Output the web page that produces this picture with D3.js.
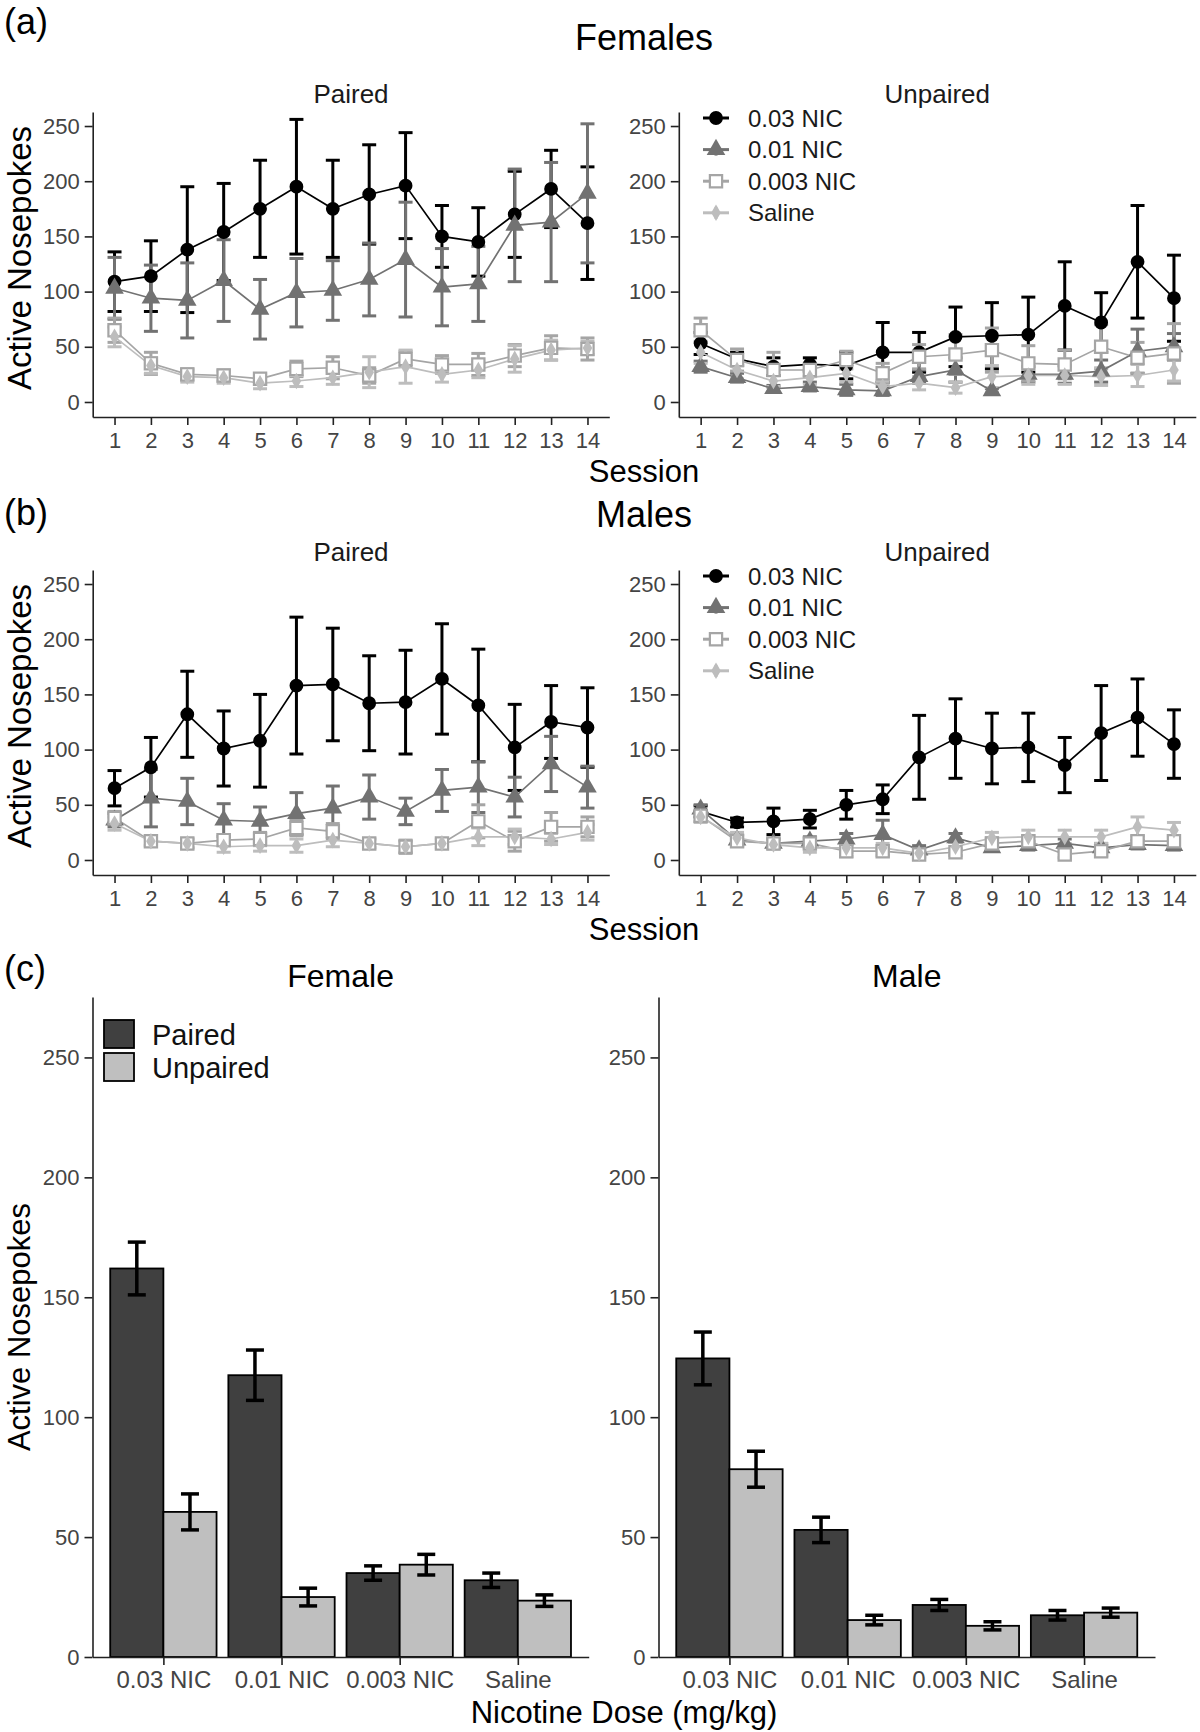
<!DOCTYPE html>
<html><head><meta charset="utf-8">
<script src="https://cdn.jsdelivr.net/npm/d3@7"></script>
<style>
body{margin:0;background:#fff}
svg{display:block}
text{font-family:"Liberation Sans",Arial,Helvetica,sans-serif}
</style>
</head><body>
<svg id="fig" width="1200" height="1732"></svg>
<script>
// ---------------- DATA ----------------
const sessions = [1,2,3,4,5,6,7,8,9,10,11,12,13,14];
const doses = ["0.03 NIC","0.01 NIC","0.003 NIC","Saline"];
const lineYTicks = [0,50,100,150,200,250];
const barYTicks = [0,50,100,150,200,250];
const conditions = ["Paired","Unpaired"];

// rows follow `doses`
const femalesPairedMean = [
  [109,114,138,154,175,195,175,188,196,150,145,170,193,162],
  [103,94,92,110,84,99,101,111,129,104,107,160,163,189],
  [65,35,25,24,21,30,31,24,39,34,34,42,49,48],
  [59,33,23,22,17,19,22,27,32,25,29,39,47,49]
];
const femalesPairedSem = [
  [27,32,57,44,44,61,44,45,48,28,31,39,35,51],
  [28,30,34,37,27,31,27,33,52,35,34,51,54,63],
  [11,10,5,5,4,7,10,7,7,8,10,10,11,10],
  [9,7,5,5,5,5,6,14,15,7,7,12,9,6]
];
const femalesUnpairedMean = [
  [53,39,32,34,33,45,45,59,60,61,87,72,127,94],
  [32,22,12,14,11,10,23,29,10,25,25,28,46,50],
  [65,38,29,29,38,26,41,43,47,35,34,50,40,44],
  [45,29,19,22,26,14,17,13,23,24,24,23,24,29]
];
const femalesUnpairedSem = [
  [10,6,8,6,12,27,18,27,30,34,40,27,51,39],
  [5,4,3,4,5,4,6,11,2,7,8,10,20,12],
  [11,10,16,6,8,9,11,18,20,16,13,20,14,27],
  [10,8,5,6,8,5,6,5,10,8,8,8,10,10]
];
const malesPairedMean = [
  [65,84,132,101,108,158,159,142,143,164,140,102,125,120],
  [36,56,53,36,35,42,47,57,44,63,66,57,87,66],
  [38,17,15,18,19,29,26,15,12,15,35,17,30,30],
  [33,17,15,12,13,13,18,15,12,15,21,21,19,25]
];
const malesPairedSem = [
  [16,27,39,34,42,62,51,43,47,50,51,39,33,36],
  [6,26,21,15,13,19,20,20,12,19,23,18,25,19],
  [6,4,4,5,6,7,7,4,6,4,15,9,13,9],
  [6,4,4,5,5,6,6,4,5,4,8,7,5,7]
];
const malesUnpairedMean = [
  [44,34,35,37,50,55,93,110,101,102,86,115,129,105],
  [46,18,15,17,19,23,9,20,11,13,15,11,14,13],
  [40,17,15,15,8,8,5,7,15,17,5,8,17,17],
  [39,20,14,11,11,11,6,12,20,21,21,21,30,27]
];
const malesUnpairedSem = [
  [5,4,12,8,13,13,38,36,32,31,25,43,35,31],
  [4,5,4,4,5,13,4,4,3,4,4,4,4,4],
  [5,4,4,4,5,4,3,3,5,5,3,4,5,5],
  [5,5,4,4,4,4,3,4,5,6,6,6,9,7]
];

// bar chart (c)
const femalePairedBar = [162,117.5,35,32];
const femalePairedBarSem = [11,10.5,3,3];
const femaleUnpairedBar = [60.5,25,38.5,23.5];
const femaleUnpairedBarSem = [7.5,3.7,4.3,2.4];
const malePairedBar = [124.5,53,21.7,17.4];
const malePairedBarSem = [11,5.3,2.3,2];
const maleUnpairedBar = [78.3,15.4,13,18.5];
const maleUnpairedBarSem = [7.5,2,1.7,1.9];

// ---------------- STYLE ----------------
const seriesColor = ["#000000","#727272","#a5a5a5","#bdbdbd"];
const seriesShape = ["circle","triangle","square","diamond"];
const barFill = ["#404040","#bfbfbf"];
const FONT = '"Liberation Sans",Arial,Helvetica,sans-serif';

const svg = d3.select("#fig");

function symbolPath(shape){
  if(shape==="circle") return d3.symbol(d3.symbolCircle,150)();
  if(shape==="triangle") return d3.symbol(d3.symbolTriangle,150)();
  if(shape==="square") return d3.symbol(d3.symbolSquare,150)();
  return d3.symbol(d3.symbolDiamond,80)();
}
function styleSymbol(sel,i){
  if(seriesShape[i]==="square"){
    sel.attr("fill","#fff").attr("stroke",seriesColor[i]).attr("stroke-width",2.2);
  } else {
    sel.attr("fill",seriesColor[i]).attr("stroke","none");
  }
}

function styleAxis(g, fs){
  g.select(".domain").attr("stroke","#222").attr("stroke-width",1.6);
  g.selectAll(".tick line").attr("stroke","#222").attr("stroke-width",1.6);
  g.selectAll(".tick text").attr("fill","#444").style("font-size",fs+"px").style("font-family",FONT);
}

function linePanel(x0,x1,top,bottom,means,sems,legendY){
  const x = d3.scalePoint().domain(sessions).range([x0,x1]).padding(0.6);
  const y = d3.scaleLinear().domain([-13.6,262.7]).range([bottom,top]);
  const g = svg.append("g");
  const ay = g.append("g").attr("transform",`translate(${x0},0)`)
    .call(d3.axisLeft(y).tickValues(lineYTicks).tickSize(8).tickSizeOuter(0).tickPadding(5));
  styleAxis(ay,22);
  const ax = g.append("g").attr("transform",`translate(0,${bottom})`)
    .call(d3.axisBottom(x).tickSize(8).tickSizeOuter(0).tickPadding(7));
  styleAxis(ax,22);
  // error bars
  means.forEach((m,i)=>{
    const eg = g.append("g").attr("stroke",seriesColor[i]).attr("stroke-width",3).attr("fill","none");
    m.forEach((v,j)=>{
      const cx = x(sessions[j]), lo = y(v - sems[i][j]), hi = y(v + sems[i][j]);
      eg.append("line").attr("x1",cx).attr("x2",cx).attr("y1",lo).attr("y2",hi);
      eg.append("line").attr("x1",cx-7).attr("x2",cx+7).attr("y1",lo).attr("y2",lo);
      eg.append("line").attr("x1",cx-7).attr("x2",cx+7).attr("y1",hi).attr("y2",hi);
    });
  });
  // lines
  means.forEach((m,i)=>{
    g.append("path").datum(m)
      .attr("fill","none").attr("stroke",seriesColor[i]).attr("stroke-width",1.7)
      .attr("d",d3.line().x((d,j)=>x(sessions[j])).y(d=>y(d)));
  });
  // points
  means.forEach((m,i)=>{
    g.selectAll(null).data(m).enter().append("path")
      .attr("d",symbolPath(seriesShape[i]))
      .attr("transform",(d,j)=>`translate(${x(sessions[j])},${y(d)})`)
      .call(s=>styleSymbol(s,i));
  });
  // legend
  if(legendY!==undefined){
    const lg = g.append("g");
    doses.forEach((d,i)=>{
      const ly = legendY + i*31.6;
      lg.append("line").attr("x1",703).attr("x2",729).attr("y1",ly).attr("y2",ly)
        .attr("stroke",seriesColor[i]).attr("stroke-width",3);
      lg.append("line").attr("x1",716).attr("x2",716).attr("y1",ly-6).attr("y2",ly+6)
        .attr("stroke",seriesColor[i]).attr("stroke-width",3);
      lg.append("path").attr("d",symbolPath(seriesShape[i]))
        .attr("transform",`translate(716,${ly})`).call(s=>styleSymbol(s,i));
      lg.append("text").attr("x",748).attr("y",ly+8.5).text(d)
        .style("font-size","24px").attr("fill","#1a1a1a");
    });
  }
}

function text(x,y,s,size,anchor,rot,fill){
  const t = svg.append("text").attr("x",x).attr("y",y).text(s)
    .style("font-size",size+"px").attr("text-anchor",anchor||"start").attr("fill",fill||"#000");
  if(rot) t.attr("transform",`rotate(${rot},${x},${y})`);
  return t;
}

// -------- (a) Females --------
const L0=92.7, L1=609.3, R0=678.8, R1=1195.8;
text(4,34,"(a)",36);
text(644,50,"Females",36,"middle");
text((L0+L1)/2,103,"Paired",26,"middle",0,"#1a1a1a");
text((R0+R1)/2,103,"Unpaired",26,"middle",0,"#1a1a1a");
linePanel(L0,L1,112,417,femalesPairedMean,femalesPairedSem);
linePanel(R0,R1,112,417,femalesUnpairedMean,femalesUnpairedSem,118);
text(644,482,"Session",31,"middle");
text(31,258,"Active Nosepokes",33,"middle",-90);

// -------- (b) Males --------
const dB = 458;
text(4,525,"(b)",36);
text(644,527,"Males",36,"middle");
text((L0+L1)/2,103+dB,"Paired",26,"middle",0,"#1a1a1a");
text((R0+R1)/2,103+dB,"Unpaired",26,"middle",0,"#1a1a1a");
linePanel(L0,L1,112+dB,417+dB,malesPairedMean,malesPairedSem);
linePanel(R0,R1,112+dB,417+dB,malesUnpairedMean,malesUnpairedSem,118+dB);
text(644,482+dB,"Session",31,"middle");
text(31,258+dB,"Active Nosepokes",33,"middle",-90);

// -------- (c) bars --------
function barPanel(x0,x1,title,pm,ps,um,us,legend){
  const top=997, bottom=1657;
  const x = d3.scalePoint().domain(doses).range([x0,x1]).padding(0.6);
  const step = x.step();
  const sub = d3.scaleBand().domain(conditions).range([-0.45*step,0.45*step]).padding(0);
  const y = d3.scaleLinear().domain([0,275.2]).range([bottom,top]);
  const g = svg.append("g");
  const vals = [pm,um], sems=[ps,us];
  conditions.forEach((c,k)=>{
    g.selectAll(null).data(vals[k]).enter().append("rect")
      .attr("x",(d,j)=>x(doses[j])+sub(c))
      .attr("width",sub.bandwidth())
      .attr("y",d=>y(d)).attr("height",d=>bottom-y(d))
      .attr("fill",barFill[k]).attr("stroke","#000").attr("stroke-width",1.8);
  });
  conditions.forEach((c,k)=>{
    vals[k].forEach((v,j)=>{
      const cx = x(doses[j])+sub(c)+sub.bandwidth()/2;
      const lo=y(v-sems[k][j]), hi=y(v+sems[k][j]);
      const eg=g.append("g").attr("stroke","#000").attr("stroke-width",3.5);
      eg.append("line").attr("x1",cx).attr("x2",cx).attr("y1",lo).attr("y2",hi);
      eg.append("line").attr("x1",cx-9).attr("x2",cx+9).attr("y1",lo).attr("y2",lo);
      eg.append("line").attr("x1",cx-9).attr("x2",cx+9).attr("y1",hi).attr("y2",hi);
    });
  });
  const ay = g.append("g").attr("transform",`translate(${x0},0)`)
    .call(d3.axisLeft(y).tickValues(barYTicks).tickSize(8).tickSizeOuter(0).tickPadding(5));
  styleAxis(ay,22);
  const ax = g.append("g").attr("transform",`translate(0,${bottom})`)
    .call(d3.axisBottom(x).tickSize(8).tickSizeOuter(0).tickPadding(6));
  styleAxis(ax,24);
  text((x0+x1)/2,987,title,32,"middle");
  if(legend){
    conditions.forEach((c,k)=>{
      g.append("rect").attr("x",104).attr("y",1020+k*33).attr("width",30).attr("height",28)
        .attr("fill",barFill[k]).attr("stroke","#000").attr("stroke-width",1.8);
      text(152,1045+k*33,c,29,"start",0,"#111");
    });
  }
}
text(4,981,"(c)",36);
barPanel(92.5,588.7,"Female",femalePairedBar,femalePairedBarSem,femaleUnpairedBar,femaleUnpairedBarSem,true);
barPanel(658.5,1155,"Male",malePairedBar,malePairedBarSem,maleUnpairedBar,maleUnpairedBarSem,false);
text(624,1723,"Nicotine Dose (mg/kg)",31,"middle");
text(30,1327,"Active Nosepokes",31,"middle",-90);
</script>
</body></html>
